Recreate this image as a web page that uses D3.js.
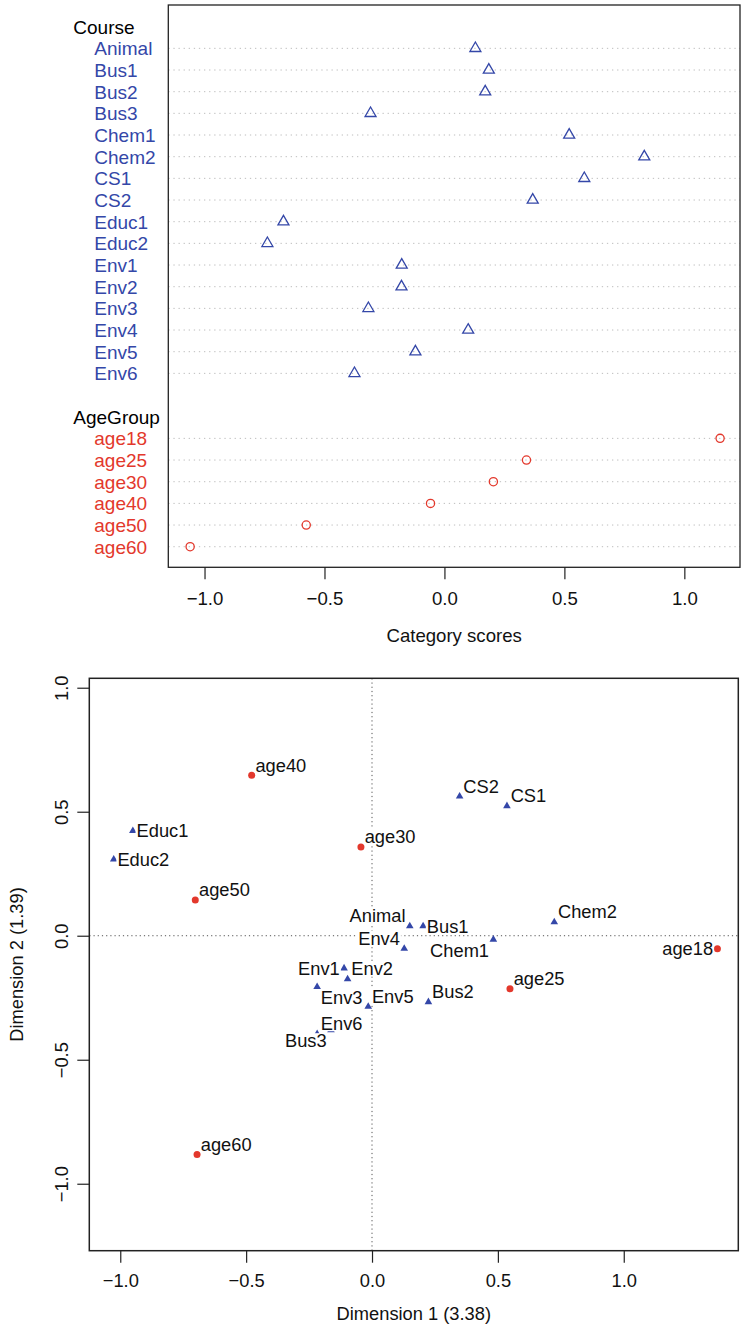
<!DOCTYPE html>
<html>
<head>
<meta charset="utf-8">
<script src="https://cdn.jsdelivr.net/npm/d3@7"></script>
<style>
  html, body { margin: 0; padding: 0; background: #fff; }
  svg { display: block; }
  text { font-family: "Liberation Sans", Arial, Helvetica, sans-serif; }
</style>
</head>
<body>
<svg id="chart" width="744" height="1329"></svg>
<script>
// ---- data ----
const courseLevels = ["Animal", "Bus1", "Bus2", "Bus3", "Chem1", "Chem2", "CS1", "CS2",
  "Educ1", "Educ2", "Env1", "Env2", "Env3", "Env4", "Env5", "Env6"];
const ageLevels = ["age18", "age25", "age30", "age40", "age50", "age60"];

// category scores (dot chart)
const courseScores = [0.129, 0.185, 0.170, -0.308, 0.520, 0.833, 0.583, 0.368,
  -0.671, -0.738, -0.178, -0.179, -0.317, 0.099, -0.121, -0.375];
const ageScores = [1.149, 0.342, 0.204, -0.058, -0.576, -1.060];

// joint plot coordinates
const courseDim1 = [0.150, 0.203, 0.224, -0.163, 0.482, 0.724, 0.536, 0.348,
  -0.950, -1.026, -0.111, -0.097, -0.218, 0.128, -0.015, -0.218];
const courseDim2 = [0.039, 0.039, -0.267, -0.380, -0.015, 0.055, 0.523, 0.562,
  0.423, 0.308, -0.131, -0.175, -0.206, -0.052, -0.286, -0.396];
const ageDim1 = [1.372, 0.548, -0.044, -0.478, -0.702, -0.695];
const ageDim2 = [-0.052, -0.214, 0.358, 0.647, 0.144, -0.882];

// side of the point each label sits on
const courseLabelSide = ["nw", "e", "ne", "sw", "sw", "ne", "ne", "ne",
  "e", "e", "w", "ne", "se", "nw", "ne", "ne"];
const ageLabelSide = ["w", "ne", "ne", "ne", "ne", "ne"];

const groupNames = ["Course", "AgeGroup"];
const xTicks = [-1, -0.5, 0, 0.5, 1];
const xTickLabels = ["\u22121.0", "\u22120.5", "0.0", "0.5", "1.0"];
const yTicks = [-1, -0.5, 0, 0.5, 1];
const yTickLabels = ["\u22121.0", "\u22120.5", "0.0", "0.5", "1.0"];

const BLUE = "#3447a8";
const RED = "#e3382c";
const svg = d3.select("#chart");

// ---- upper panel: dot chart of category scores ----
const dotBox = { left: 168.3, right: 740, top: 5, bottom: 567.3 };
const xTop = d3.scaleLinear().domain([-1.151, 1.232]).range([dotBox.left, dotBox.right]);

// rows: header, courses, gap, header, ages
const rows = [];
rows.push({ type: "header", name: groupNames[0] });
courseLevels.forEach((c, i) => rows.push({ type: "item", name: c, value: courseScores[i], group: 0 }));
rows.push({ type: "gap" });
rows.push({ type: "header", name: groupNames[1] });
ageLevels.forEach((a, i) => rows.push({ type: "item", name: a, value: ageScores[i], group: 1 }));
rows.forEach((r, i) => r.row = i);

const yTop = d3.scaleLinear().domain([-1, rows.length - 1 + 0.95]).range([dotBox.top, dotBox.bottom]);

const gTop = svg.append("g");
const items = rows.filter(r => r.type === "item");

gTop.selectAll("line.grid").data(items).join("line")
  .attr("x1", dotBox.left).attr("x2", dotBox.right)
  .attr("y1", d => yTop(d.row)).attr("y2", d => yTop(d.row))
  .attr("stroke", "#bdbdbd").attr("stroke-width", 1)
  .attr("stroke-dasharray", "1.3,3.8");

gTop.append("rect")
  .attr("x", dotBox.left).attr("y", dotBox.top)
  .attr("width", dotBox.right - dotBox.left).attr("height", dotBox.bottom - dotBox.top)
  .attr("fill", "none").attr("stroke", "#222").attr("stroke-width", 1.3);

// row labels
gTop.selectAll("text.rowlab").data(rows.filter(r => r.type !== "gap")).join("text")
  .attr("x", d => d.type === "header" ? 73.3 : 94.3)
  .attr("y", d => yTop(d.row) + 7)
  .attr("font-size", 19)
  .attr("fill", d => d.type === "header" ? "#000" : (d.group === 0 ? BLUE : RED))
  .text(d => d.name);

// open triangles for courses, open circles for age groups
const triOpen = 6.35;
const triPath = r => `M0,${-r}L${r * 0.866},${r / 2}L${-r * 0.866},${r / 2}Z`;
gTop.selectAll("path.tri").data(items.filter(d => d.group === 0)).join("path")
  .attr("d", triPath(triOpen))
  .attr("transform", d => `translate(${xTop(d.value)},${yTop(d.row)})`)
  .attr("fill", "none").attr("stroke", BLUE).attr("stroke-width", 1.3);
gTop.selectAll("circle.age").data(items.filter(d => d.group === 1)).join("circle")
  .attr("cx", d => xTop(d.value)).attr("cy", d => yTop(d.row)).attr("r", 4.1)
  .attr("fill", "none").attr("stroke", RED).attr("stroke-width", 1.3);

// x axis
const axTop = gTop.append("g").attr("transform", `translate(0,${dotBox.bottom})`)
  .call(d3.axisBottom(xTop).tickValues(xTicks).tickSize(12).tickSizeOuter(0)
    .tickFormat((d, i) => xTickLabels[i]));
axTop.select(".domain").remove();
axTop.selectAll(".tick line").attr("stroke", "#222").attr("stroke-width", 1.2);
axTop.selectAll(".tick text").attr("font-size", 18.6).attr("fill", "#111")
  .attr("dy", 0).attr("y", 38);
gTop.append("text")
  .attr("x", (dotBox.left + dotBox.right) / 2).attr("y", 642)
  .attr("text-anchor", "middle").attr("font-size", 18.6).attr("fill", "#111")
  .text("Category scores");

// ---- lower panel: joint plot of dimensions 1 and 2 ----
const jointBox = { left: 89.3, right: 738.3, top: 678.3, bottom: 1250.7 };
const xB = d3.scaleLinear().domain([-1.123, 1.455]).range([jointBox.left, jointBox.right]);
const yB = d3.scaleLinear().domain([-1.270, 1.038]).range([jointBox.bottom, jointBox.top]);
const gB = svg.append("g");

gB.append("line").attr("x1", jointBox.left).attr("x2", jointBox.right)
  .attr("y1", yB(0)).attr("y2", yB(0))
  .attr("stroke", "#555").attr("stroke-width", 1).attr("stroke-dasharray", "1.2,3");
gB.append("line").attr("y1", jointBox.top).attr("y2", jointBox.bottom)
  .attr("x1", xB(0)).attr("x2", xB(0))
  .attr("stroke", "#555").attr("stroke-width", 1).attr("stroke-dasharray", "1.2,3");

const pts = [];
courseLevels.forEach((c, i) => pts.push({ name: c, x: courseDim1[i], y: courseDim2[i], group: 0, side: courseLabelSide[i] }));
ageLevels.forEach((a, i) => pts.push({ name: a, x: ageDim1[i], y: ageDim2[i], group: 1, side: ageLabelSide[i] }));

gB.selectAll("path.ctri").data(pts.filter(d => d.group === 0)).join("path")
  .attr("d", triPath(4.4))
  .attr("transform", d => `translate(${xB(d.x)},${yB(d.y)})`)
  .attr("fill", BLUE);
gB.selectAll("circle.adot").data(pts.filter(d => d.group === 1)).join("circle")
  .attr("cx", d => xB(d.x)).attr("cy", d => yB(d.y)).attr("r", 3.5)
  .attr("fill", RED);

// labels on white boxes
const fsB = 18.3;
const labG = gB.append("g");
const boxG = labG.append("g");
const txtG = labG.append("g");
pts.forEach(d => {
  const px = xB(d.x), py = yB(d.y);
  let anchor = "start", tx = px + 3.7, cy = py;
  if (d.side.includes("w")) { anchor = "end"; tx = px - 4.3; }
  if (d.side.startsWith("n")) cy = py - 10.3;
  if (d.side.startsWith("s")) cy = py + 10.8;
  const baseline = cy + 6.6;
  const t = txtG.append("text")
    .attr("x", tx).attr("y", baseline)
    .attr("text-anchor", anchor).attr("font-size", fsB).attr("fill", "#111")
    .text(d.name);
  const w = t.node().getComputedTextLength();
  const bx = anchor === "start" ? tx : tx - w;
  boxG.append("rect")
    .attr("x", bx - 1).attr("y", baseline - 14.2)
    .attr("width", w + 2).attr("height", 15.2)
    .attr("fill", "#fff");
});

gB.append("rect")
  .attr("x", jointBox.left).attr("y", jointBox.top)
  .attr("width", jointBox.right - jointBox.left).attr("height", jointBox.bottom - jointBox.top)
  .attr("fill", "none").attr("stroke", "#222").attr("stroke-width", 1.5);

const axBx = gB.append("g").attr("transform", `translate(0,${jointBox.bottom})`)
  .call(d3.axisBottom(xB).tickValues(xTicks).tickSize(12).tickSizeOuter(0)
    .tickFormat((d, i) => xTickLabels[i]));
axBx.select(".domain").remove();
axBx.selectAll(".tick line").attr("stroke", "#222").attr("stroke-width", 1.2);
axBx.selectAll(".tick text").attr("font-size", fsB).attr("fill", "#111")
  .attr("dy", 0).attr("y", 36);

const axBy = gB.append("g").attr("transform", `translate(${jointBox.left},0)`)
  .call(d3.axisLeft(yB).tickValues(yTicks).tickSize(12).tickSizeOuter(0)
    .tickFormat((d, i) => yTickLabels[i]));
axBy.select(".domain").remove();
axBy.selectAll(".tick line").attr("stroke", "#222").attr("stroke-width", 1.2);
axBy.selectAll(".tick text").attr("font-size", fsB).attr("fill", "#111")
  .attr("text-anchor", "middle").attr("dy", 0).attr("x", 0).attr("y", 0)
  .attr("transform", "translate(-21.3,0) rotate(-90)");

gB.append("text")
  .attr("x", (jointBox.left + jointBox.right) / 2).attr("y", 1320)
  .attr("text-anchor", "middle").attr("font-size", fsB).attr("fill", "#111")
  .text("Dimension 1 (3.38)");
gB.append("text")
  .attr("transform", `translate(22.5,${(jointBox.top + jointBox.bottom) / 2}) rotate(-90)`)
  .attr("text-anchor", "middle").attr("font-size", fsB).attr("fill", "#111")
  .text("Dimension 2 (1.39)");
</script>
</body>
</html>
